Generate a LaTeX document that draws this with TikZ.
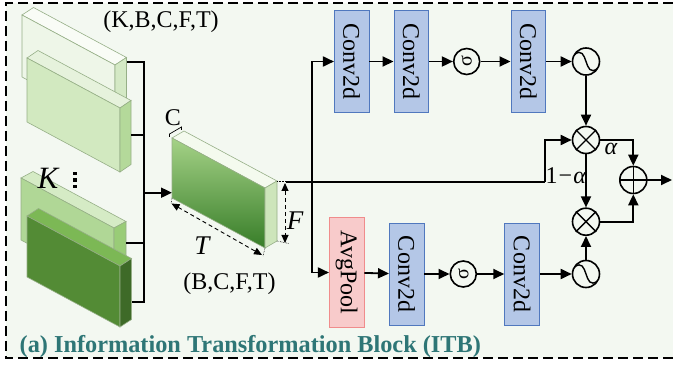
\documentclass[tikz,border=0pt]{standalone}
\usepackage{fontspec}
\usepackage{graphicx}
\setmainfont{Liberation Serif}
\usetikzlibrary{arrows.meta,calc}
\definecolor{bgc}{RGB}{243,248,241}
\definecolor{titlec}{RGB}{46,118,118}
\definecolor{convfill}{RGB}{180,199,231}
\definecolor{convdraw}{RGB}{80,120,190}
\definecolor{poolfill}{RGB}{248,203,203}
\definecolor{pooldraw}{RGB}{240,140,140}
\definecolor{edgec}{RGB}{150,175,135}
\definecolor{fa}{RGB}{238,246,232}\definecolor{ta}{RGB}{249,252,246}\definecolor{sa}{RGB}{212,233,197}
\definecolor{fb}{RGB}{210,233,192}\definecolor{tb}{RGB}{230,242,220}\definecolor{sb}{RGB}{180,217,154}
\definecolor{fc}{RGB}{176,215,150}\definecolor{tc}{RGB}{213,235,197}\definecolor{sc}{RGB}{153,204,119}
\definecolor{fd}{RGB}{83,139,53}\definecolor{td}{RGB}{124,184,85}\definecolor{sd}{RGB}{62,106,40}
\definecolor{mtop}{RGB}{244,250,238}\definecolor{mside}{RGB}{205,229,187}
\definecolor{mlight}{RGB}{165,210,135}\definecolor{mmid}{RGB}{110,178,80}\definecolor{mdark}{RGB}{55,125,40}
% slab: x, y, h, dx, dy(up), front, top, side
\newcommand\slab[8]{%
  \filldraw[boxedge,fill=#7] (#1,#2) -- ++(#4,-#5) -- ++(93,50) -- ++(-#4,#5) -- cycle;
  \filldraw[boxedge,fill=#6] (#1,#2) -- ++(93,50) -- ++(0,#3) -- ++(-93,-50) -- cycle;
  \filldraw[boxedge,fill=#8] (#1+93,#2+50) -- ++(#4,-#5) -- ++(0,#3) -- ++(-#4,#5) -- cycle;
}
\begin{document}
\begin{tikzpicture}[x=1pt,y=-1pt,
  txt/.style={font=\fontsize{24}{28}\selectfont,inner sep=0pt},
  boxedge/.style={draw=edgec,line width=0.6pt},
  conn/.style={line width=1.8pt},
  arr/.style={line width=1.8pt,-{Triangle[length=11pt,width=10pt]}},
  conv/.style={draw=convdraw,fill=convfill,line width=0.8pt,minimum width=34.7pt,minimum height=102pt,inner sep=0pt,font=\fontsize{24}{28}\selectfont},
  pool/.style={conv,draw=pooldraw,fill=poolfill,minimum height=110pt},
  opc/.style={circle,draw,line width=1.6pt,minimum size=27pt,inner sep=0pt},
  actc/.style={circle,draw,line width=1.6pt,minimum size=26pt,inner sep=0pt,font=\fontsize{20}{22}\selectfont},
  dim/.style={line width=0.9pt,dashed,dash pattern=on 4pt off 3pt,{Triangle[length=8pt,width=7pt]}-{Triangle[length=8pt,width=7pt]}},
  ext/.style={line width=0.6pt,densely dotted}
]
\useasboundingbox (0,0) rectangle (673,366);
\fill[bgc] (5.7,3.3) rectangle (673,358.3);
\draw[line width=2pt,dash pattern=on 10pt off 5pt] (673,3.3) -- (5.7,3.3) -- (5.7,358.3) -- (673,358.3);

% left stack
\slab{22}{15}{62}{11.5}{7.5}{fa}{ta}{sa}
\slab{27}{58}{64}{11}{7.5}{fb}{tb}{sb}
\slab{21}{178}{62}{12}{6.5}{fc}{tc}{sc}
\slab{27}{216}{61}{11.5}{7.5}{fd}{td}{sd}

\node[txt] (kbcft) at (161,21.5) {(K,B,C,F,T)};
\node[txt,font=\fontsize{31}{34}\selectfont\itshape] (kk) at (48,178) {K};
\foreach \yy in {173.5,180,186.5} \fill (72.9,\yy-1.8) rectangle ++(3.6,3.6);

% bracket
\coordinate (b1) at (126.5,62);
\coordinate (b2) at (131,135);
\coordinate (b3) at (126,243.3);
\coordinate (b4) at (131.5,301.7);
\coordinate (jt) at (144.3,62);
\coordinate (jb) at (144.3,301.7);
\coordinate (jm) at (144.3,192.7);
\coordinate (min) at (172,192.7);
\draw[conn] (b1) -- (jt) -- (jb) -- (b4);
\draw[conn] (b2) -- (b2 -| jt);
\draw[conn] (b3) -- (b3 -| jt);
\draw[arr] (jm) -- (min);

% middle slab
\filldraw[boxedge,fill=mtop] (172,138) -- ++(12,-7) -- ++(93,50) -- ++(-12,7) -- cycle;
\shade[top color=mlight,middle color=mmid,bottom color=mdark] (172,138) -- ++(93,50) -- ++(0,60) -- ++(-93,-50) -- cycle;
\draw[boxedge] (172,138) -- ++(93,50) -- ++(0,60) -- ++(-93,-50) -- cycle;
\filldraw[boxedge,fill=mside] (265,188) -- ++(12,-7) -- ++(0,60) -- ++(-12,7) -- cycle;

\node[txt] (clab) at (173,118) {C};
\draw[line width=0.7pt] (169.5,137) -- (169.5,134) -- (181.5,127) -- (181.5,130);
\draw[ext] (172,198) -- (171,204);
\draw[ext] (265,248) -- (263,256);
\draw[dim] (171.5,203.5) -- (262,255);
\node[txt,font=\fontsize{27}{30}\selectfont\itshape] (tlab) at (202,246) {T};
\draw[ext] (277,181) -- (289,181);
\draw[ext] (277,241) -- (289,243.5);
\draw[dim] (285,183) -- (285,243);
\node[txt,font=\fontsize{27}{30}\selectfont\itshape] (flab) at (295,221) {F};
\node[txt] (bcft) at (229.5,284) {(B,C,F,T)};

% right part
\node[conv] (c1) at (351.7,61.5) {\rotatebox{-90}{Conv2d}};
\node[conv] (c2) at (411.3,61.5) {\rotatebox{-90}{Conv2d}};
\node[actc] (s1) at (466.7,61.5) {\rotatebox{90}{σ}};
\node[conv] (c3) at (528.3,61.5) {\rotatebox{-90}{Conv2d}};
\node[opc] (g1) at (586,61.5) {};
\node[opc] (m1) at (586,140) {};
\node[opc] (ad) at (633.3,180) {};
\node[opc] (m2) at (586,221.7) {};
\node[pool] (ap) at (346.7,272.5) {\rotatebox{-90}{AvgPool}};
\node[conv] (c4) at (406.7,274) {\rotatebox{-90}{Conv2d}};
\node[actc] (s2) at (463.3,274) {\rotatebox{90}{σ}};
\node[conv] (c5) at (522,274) {\rotatebox{-90}{Conv2d}};
\node[opc] (g2) at (586,274) {};

% symbols inside
\draw[line width=1.4pt,shift={(g1)}] (-11.5,-7) .. controls (3,-18) and (-3,18) .. (11.5,7);
\draw[line width=1.4pt,shift={(g2)}] (-11.5,-7) .. controls (3,-18) and (-3,18) .. (11.5,7);
\draw[line width=1.4pt] (m1.45) -- (m1.225) (m1.135) -- (m1.315);
\draw[line width=1.4pt] (m2.45) -- (m2.225) (m2.135) -- (m2.315);
\draw[line width=1.4pt] (ad.north) -- (ad.south) (ad.east) -- (ad.west);

% trunk
\coordinate (mout) at (286,181.7);
\coordinate (vj) at (311.7,181.7);
\coordinate (tk) at (545,181.7);
\coordinate (oend) at (672,180);
\draw[conn] (mout) -- (tk);
\draw[arr] (tk) |- (m1.west);
\draw[arr] (vj) |- (c1.west);
\draw[arr] (vj) |- (ap.west);

\draw[arr] (c1) -- (c2);
\draw[arr] (c2) -- (s1);
\draw[arr] (s1) -- (c3);
\draw[arr] (c3) -- (g1);
\draw[arr] (g1) -- (m1);
\draw[arr] (m1) -- (m2);
\draw[arr] (m1.east) -| (ad.north);
\draw[arr] (m2.east) -| (ad.south);
\draw[arr] (ad) -- (oend);

\draw[arr] (ap) -- (c4);
\draw[arr] (c4) -- (s2);
\draw[arr] (s2) -- (c5);
\draw[arr] (c5) -- (g2);
\draw[arr] (g2) -- (m2);

\node[txt,font=\fontsize{24}{28}\selectfont\itshape] (alab) at (611,149) {α};
\node[txt] (oma) at (566,176) {1\kern1pt−\kern1pt\textit{α}};

\node[txt,anchor=base west,text=titlec,font=\fontsize{24.3}{28}\selectfont\bfseries] (title) at (19.5,353) {(a) Information Transformation Block (ITB)};
\end{tikzpicture}
\end{document}
